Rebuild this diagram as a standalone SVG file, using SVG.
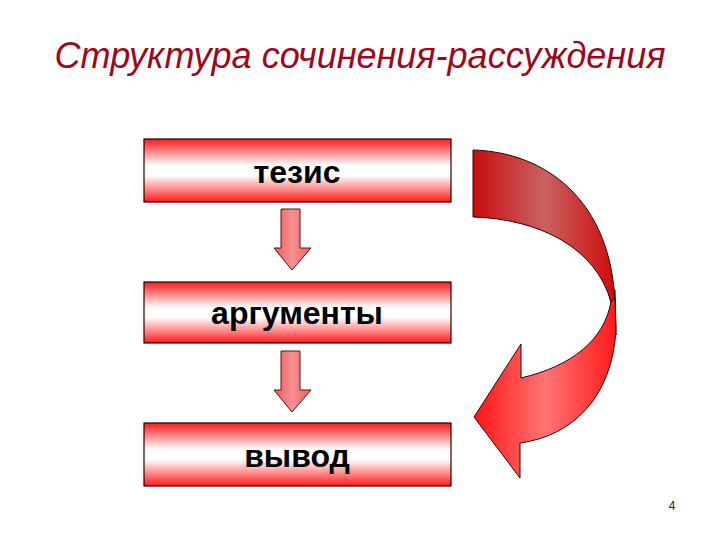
<svg xmlns="http://www.w3.org/2000/svg" width="720" height="540" viewBox="0 0 720 540">
<defs>
<linearGradient id="boxG" x1="0" y1="0" x2="0" y2="1">
<stop offset="0" stop-color="#ff1a1a"/>
<stop offset="0.42" stop-color="#ffffff"/>
<stop offset="0.58" stop-color="#ffffff"/>
<stop offset="1" stop-color="#ff1a1a"/>
</linearGradient>
<linearGradient id="downG" x1="0" y1="0" x2="1" y2="0">
<stop offset="0" stop-color="#f05a5a"/>
<stop offset="0.5" stop-color="#f59090"/>
<stop offset="1" stop-color="#f06060"/>
</linearGradient>
<linearGradient id="upperG" gradientUnits="userSpaceOnUse" x1="473" y1="0" x2="615" y2="0">
<stop offset="0" stop-color="#c80c0c"/>
<stop offset="0.5" stop-color="#c86262"/>
<stop offset="1" stop-color="#d00a0a"/>
</linearGradient>
<linearGradient id="lowerG" gradientUnits="userSpaceOnUse" x1="474" y1="0" x2="616" y2="0">
<stop offset="0" stop-color="#ff1414"/>
<stop offset="0.5" stop-color="#ff7474"/>
<stop offset="1" stop-color="#ff1a1a"/>
</linearGradient>
<style>
.box{fill:url(#boxG);stroke:#2a0000;stroke-width:1.2}
.lbl{font-family:"Liberation Sans",Arial,sans-serif;font-weight:bold;font-size:32px;fill:#000;text-anchor:middle}
.down{fill:url(#downG);stroke:#5a1010;stroke-width:1}
.band{stroke:#3a0000;stroke-width:1;stroke-linejoin:round}
</style>
</defs>
<rect width="720" height="540" fill="#ffffff"/>
<text x="360" y="68" font-family="'Liberation Sans',Arial,sans-serif" font-style="italic" font-size="36" fill="#a0061a" text-anchor="middle">Структура сочинения-рассуждения</text>
<g id="node-tezis">
<rect class="box" x="144" y="139" width="307" height="63"/>
<text class="lbl" x="297" y="183">тезис</text>
</g>
<g id="node-argumenty">
<rect class="box" x="144" y="282" width="307" height="61"/>
<text class="lbl" x="297" y="324">аргументы</text>
</g>
<g id="node-vyvod">
<rect class="box" x="144" y="423" width="307" height="63"/>
<text class="lbl" x="297" y="467">вывод</text>
</g>
<g id="connectors">
<path class="down" d="M281,209 L300,209 L300,248 L311,248 L292,270 L274,248 L281,248 Z"/>
<path class="down" d="M281,351 L300,351 L300,390 L311,390 L292,412 L274,390 L281,390 Z"/>
<g id="curved-arrow">
<path class="band" fill="#b80000" d="M607,285 L615,290 L616,335 L611,303 Z"/>
<path class="band" fill="url(#upperG)" d="M473,150 C545,152 612,200 615,305 L611,302 C596,248 540,219 473,217 Z"/>
<path class="band" fill="url(#lowerG)" d="M611,302 L615,298 L616,330 C612,398 572,436 520,443 L520,478 L474,417 L521,344 L521,378 C572,366 604,340 611,302 Z"/>
</g>
</g>
<text x="672" y="510" font-family="'Liberation Sans',Arial,sans-serif" font-size="12" fill="#222" text-anchor="middle">4</text>
</svg>
